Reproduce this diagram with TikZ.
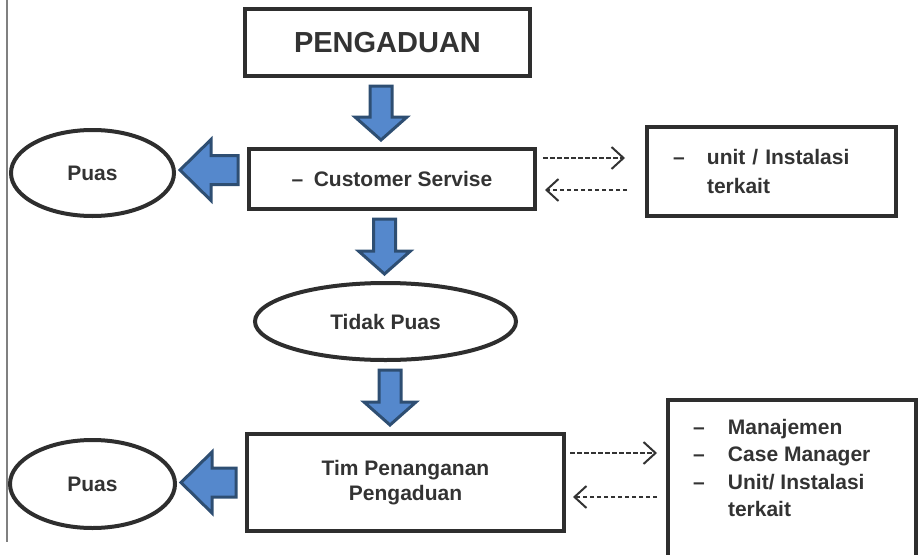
\documentclass[tikz,border=0pt]{standalone}
\usepackage{fontspec}
\setmainfont{Liberation Sans}
\usetikzlibrary{positioning,shapes.geometric,arrows.meta,calc}
\definecolor{boxgray}{HTML}{2E2E2E}
\definecolor{textgray}{HTML}{333333}
\definecolor{flowfill}{HTML}{5588CC}
\definecolor{flowedge}{HTML}{2E4E72}
\newcommand{\flowfont}{\fontsize{21}{25}\selectfont\bfseries}
\tikzset{
  box/.style={rectangle, draw=boxgray, line width=4pt, inner sep=0pt, text=textgray, font=\flowfont},
  oval/.style={ellipse, draw=boxgray, line width=4pt, inner sep=0pt, text=textgray, font=\flowfont},
%  flowRight/.style={...},
  flowDown/.style={draw=flowedge, fill=flowfill, line width=3pt,
    to path={let \p1=(\tikztostart), \p2=(\tikztotarget) in
      (\x1-11pt,\y1-8pt) -- (\x1-11pt,\y2+30pt) -- (\x1-26pt,\y2+30pt) -- (\x1,\y2+7pt)
      -- (\x1+26pt,\y2+30pt) -- (\x1+11pt,\y2+30pt) -- (\x1+11pt,\y1-8pt) -- cycle}},
  flowLeft/.style={draw=flowedge, fill=flowfill, line width=3pt,
    to path={let \p1=(\tikztostart), \p2=(\tikztotarget) in
      (\x1-9pt,\y1+14.5pt) -- (\x2+35pt,\y1+14.5pt) -- (\x2+35pt,\y1+30.5pt) -- (\x2+4pt,\y1)
      -- (\x2+35pt,\y1-30.5pt) -- (\x2+35pt,\y1-14.5pt) -- (\x1-9pt,\y1-14.5pt) -- cycle}},
  refer/.style={draw=textgray, line width=2pt, dash pattern=on 4.5pt off 2.5pt,
    -{Straight Barb[length=12pt,width=22pt]}}
}
\begin{document}
\begin{tikzpicture}[x=1pt, y=-1pt]
  \useasboundingbox (0,0) rectangle (923,554);
  \clip (0,0) rectangle (923,554);
  \draw[gray, line width=1.2pt] (7,0) -- (7,542);

  \node [box, minimum width=285, minimum height=67, font=\fontsize{29}{33}\selectfont\bfseries] (peng) at (387.5,42.5) {PENGADUAN};
  \node [box, minimum width=286, minimum height=60] (cs) at (392,179) {--\enspace Customer Servise};
  \node [box, minimum width=249, minimum height=89, text width=197pt, inner xsep=26pt, align=left,
         font=\fontsize{21}{29}\selectfont\bfseries] (unit) at (771.5,171.5)
        {\makebox[34pt][l]{--}unit / Instalasi\\\makebox[34pt]{}terkait};
  \node [oval, minimum width=163, minimum height=86] (puasA) at (92.5,173) {Puas};
  \node [oval, minimum width=261, minimum height=77] (tp) at (385.5,321.5) {Tidak Puas};
  \node [box, minimum width=317, minimum height=97, align=center] (tim) at (405.5,482.5) {Tim Penanganan\\Pengaduan};
  \node [oval, minimum width=165, minimum height=88] (puasB) at (92.5,484) {Puas};
  \node [box, anchor=north, inner xsep=25pt, inner ysep=19pt] (team) at (792,398)
        {\parbox[c][200pt][t]{198pt}{\fontsize{21}{27.5}\selectfont
          \makebox[35pt][l]{--}Manajemen\\
          \makebox[35pt][l]{--}Case Manager\\
          \makebox[35pt][l]{--}Unit/ Instalasi\\
          \makebox[35pt]{}terkait\par}};

  \draw[flowDown] ([xshift=-6.5pt]peng.south) to (cs.north);
  \draw[flowDown] ([xshift=-7.5pt]cs.south) to (tp.north);
  \draw[flowDown] ([xshift=4.5pt]tp.south) to (tim.north);
  \draw[flowLeft] ([yshift=9pt]cs.west) to (puasA.east);
  \draw[flowLeft] (tim.west) to (puasB.east);

  \draw[refer] let \p1=(cs.east), \p2=(unit.west) in (\x1+6pt,\y1+21pt) -- (\x2-20pt,\y1+21pt);
  \draw[refer] let \p1=(unit.west), \p2=(cs.east) in (\x1-18pt,\y2-11pt) -- (\x2+8pt,\y2-11pt);
  \draw[refer] let \p1=(tim.east), \p2=(team.west) in (\x1+4pt,\y1+29.5pt) -- (\x2-9pt,\y1+29.5pt);
  \draw[refer] let \p1=(team.west), \p2=(tim.east) in (\x1-9pt,\y2-14.5pt) -- (\x2+7pt,\y2-14.5pt);
\end{tikzpicture}
\end{document}
